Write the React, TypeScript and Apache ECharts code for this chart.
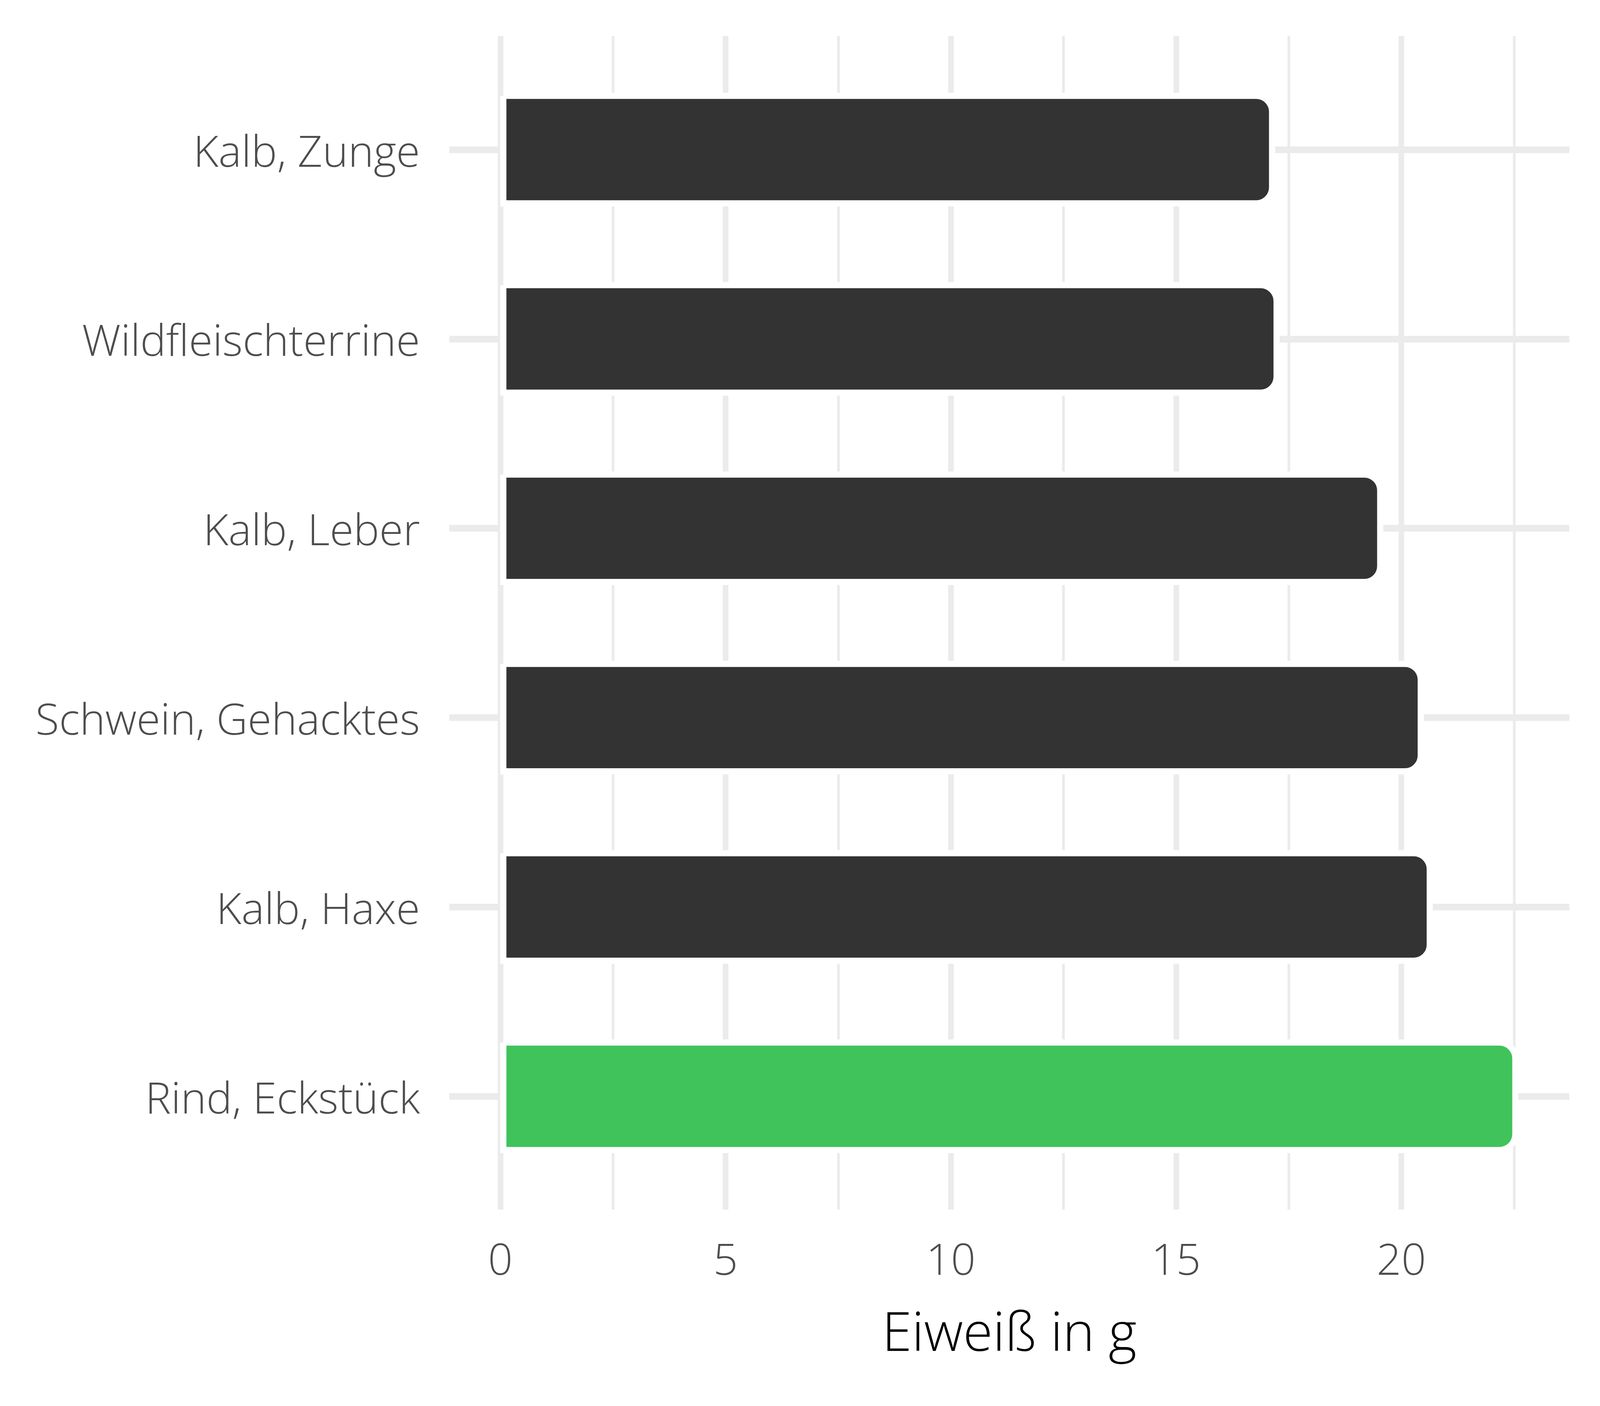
import React, { useEffect, useRef } from 'react';
import * as echarts from 'echarts';

const categories = ['Kalb, Zunge', 'Wildfleischterrine', 'Kalb, Leber', 'Schwein, Gehacktes', 'Kalb, Haxe', 'Rind, Eckstück'];
const values = [17.2, 17.3, 19.6, 20.5, 20.7, 22.6];
const highlighted = 'Rind, Eckstück';
const axisTitle = 'Eiweiß in g';
const xMin = -1.13;
const xMax = 23.73;

const FONT = "'Open Sans', 'Noto Sans', 'DejaVu Sans', sans-serif";
const GRID = '#ebebeb';
const TEXT = '#4d4d4d';

function buildOption(W: number, H: number) {
  const sx = W / 4800;
  const sy = H / 3600;
  const sm = (sx + sy) / 2;
  return {
    animation: false,
    backgroundColor: '#ffffff',
    textStyle: { fontFamily: FONT },
    grid: [
      { left: 1348 * sx, right: 92 * sx, top: 140.6 * sy, bottom: 550.6 * sy },
      { left: 1501 * sx, right: 596 * sx, top: 92 * sy, bottom: 503 * sy },
      { left: 1501 * sx, right: 258 * sx, top: 92 * sy, bottom: 503 * sy },
    ],
    xAxis: [
      {
        gridIndex: 0, type: 'value', min: xMin, max: xMax,
        axisLine: { show: false }, axisTick: { show: false }, axisLabel: { show: false }, splitLine: { show: false },
        name: axisTitle, nameLocation: 'middle', nameGap: 287 * sy,
        nameTextStyle: { fontSize: 162 * sx, color: '#000000', fontFamily: FONT, fontWeight: 300 },
      },
      {
        gridIndex: 1, type: 'value', min: 0, max: 20, interval: 5,
        axisLine: { show: false }, axisTick: { show: false },
        axisLabel: { show: true, margin: 68 * sy, fontSize: 130 * sx, color: TEXT, fontFamily: FONT, fontWeight: 300 },
        splitLine: { show: true, lineStyle: { color: GRID, width: 17 * sx } },
      },
      {
        gridIndex: 2, type: 'value', min: 0, max: 22.5, interval: 2.5,
        axisLine: { show: false }, axisTick: { show: false }, axisLabel: { show: false },
        splitLine: { show: true, lineStyle: { color: GRID, width: 8 * sx } },
      },
    ],
    yAxis: [
      {
        gridIndex: 0, type: 'category', data: categories, inverse: true,
        axisLine: { show: false }, axisTick: { show: false }, splitLine: { show: false },
        axisLabel: { margin: 88 * sx, fontSize: 130 * sx, color: TEXT, fontFamily: FONT, fontWeight: 300 },
      },
      { gridIndex: 1, type: 'value', min: 0, max: 1, show: false },
      { gridIndex: 2, type: 'value', min: 0, max: 1, show: false },
    ],
    series: [
      {
        type: 'bar', xAxisIndex: 0, yAxisIndex: 0, barWidth: '60%', z: 2,
        data: values.map((v, i) => ({
          value: v,
          itemStyle: { color: categories[i] === highlighted ? '#3fc35a' : '#333333' },
        })),
        itemStyle: { borderColor: '#ffffff', borderWidth: 17 * sm, borderRadius: [0, 44 * sm, 44 * sm, 0] },
        emphasis: { disabled: true },
        markLine: {
          silent: true, z: 1, symbol: ['none', 'none'],
          label: { show: false },
          emphasis: { disabled: true },
          lineStyle: { color: GRID, width: 17 * sy, type: 'solid' },
          data: categories.map((_, i) => ({ yAxis: i })),
        },
      },
    ],
  };
}

export default function App() {
  const ref = useRef<HTMLDivElement>(null);
  useEffect(() => {
    const el = ref.current;
    if (!el) return;
    const chart = echarts.init(el, undefined, { renderer: 'svg' });
    const W = el.clientWidth || 4800;
    const H = el.clientHeight || 3600;
    chart.setOption(buildOption(W, H) as any);
    return () => chart.dispose();
  }, []);
  return <div ref={ref} style={{ position: 'fixed', left: 0, top: 0, width: '100vw', height: '100vh' }} />;
}
